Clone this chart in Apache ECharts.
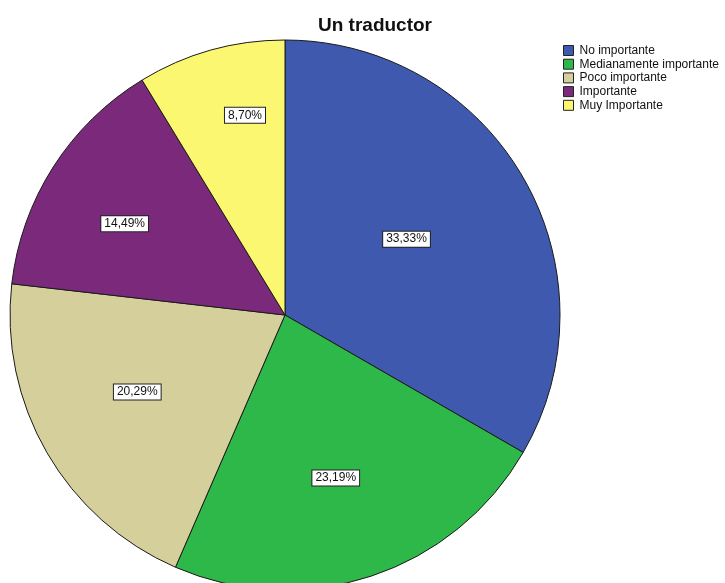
<!DOCTYPE html>
<html>
<head>
<meta charset="utf-8">
<script src="https://cdn.jsdelivr.net/npm/echarts@6/dist/echarts.min.js"></script>
<style>
html,body{margin:0;padding:0;background:#fff;}
#chart{width:725px;height:583px;}
</style>
</head>
<body>
<div id="chart"></div>
<script>
// Categories, percentages and slice colours
const categories = ['No importante', 'Medianamente importante', 'Poco importante', 'Importante', 'Muy Importante'];
const percents = [33.33, 23.19, 20.29, 14.49, 8.70];
const colors = ['#3e59ad', '#2fb84a', '#d5cf9b', '#7b2a7b', '#fbf770'];

// Pie geometry; each value box is placed at a share of the radius,
// turned a few degrees away from its slice's mid-angle
const CX = 285, CY = 315, R = 275;
const labelRadiusShare = [0.51, 0.61, 0.595, 0.66, 0.73];
const labelTurnDeg = [-2, 1, 2.5, -3, 4.4];

const total = percents.reduce((a, b) => a + b, 0);
let acc = 0;
const labelOffsets = percents.map((v, i) => {
  const mid = (acc + v / 2) / total * 2 * Math.PI; // clockwise from 12 o'clock
  acc += v;
  const a = mid + labelTurnDeg[i] * Math.PI / 180;
  const r = labelRadiusShare[i] * R;
  const r0 = 0.5 * R; // where 'inside' puts the label by default
  return [Math.sin(a) * r - Math.sin(mid) * r0, -Math.cos(a) * r + Math.cos(mid) * r0];
});

const FONT = 'Liberation Sans, Arial, sans-serif';
const chart = echarts.init(document.getElementById('chart'));
chart.setOption({
  animation: false,
  textStyle: { fontFamily: FONT },
  title: {
    text: 'Un traductor',
    left: 313,
    top: 11,
    textStyle: { fontSize: 19, fontWeight: 'bold', color: '#111', fontFamily: FONT }
  },
  legend: {
    orient: 'vertical',
    left: 558,
    top: 39.5,
    itemWidth: 10,
    itemHeight: 10,
    itemGap: 1.7,
    icon: 'rect',
    data: categories,
    itemStyle: { borderColor: '#222', borderWidth: 1 },
    textStyle: { fontSize: 12, color: '#111', padding: [0, 0, 0, 1] }
  },
  series: [{
    type: 'pie',
    center: [CX, CY],
    radius: R,
    startAngle: 90,
    clockwise: true,
    label: {
      show: true,
      position: 'inside',
      formatter: p => p.value.toFixed(2).replace('.', ',') + '%',
      fontSize: 12,
      color: '#111',
      backgroundColor: '#fff',
      borderColor: '#222',
      borderWidth: 1,
      padding: [2, 3, 1, 3]
    },
    labelLine: { show: false },
    itemStyle: { borderColor: '#1a1a1a', borderWidth: 1 },
    emphasis: { disabled: true },
    data: categories.map((c, i) => ({
      name: c,
      value: percents[i],
      itemStyle: { color: colors[i] },
      label: { offset: labelOffsets[i] }
    }))
  }]
});
</script>
</body>
</html>
